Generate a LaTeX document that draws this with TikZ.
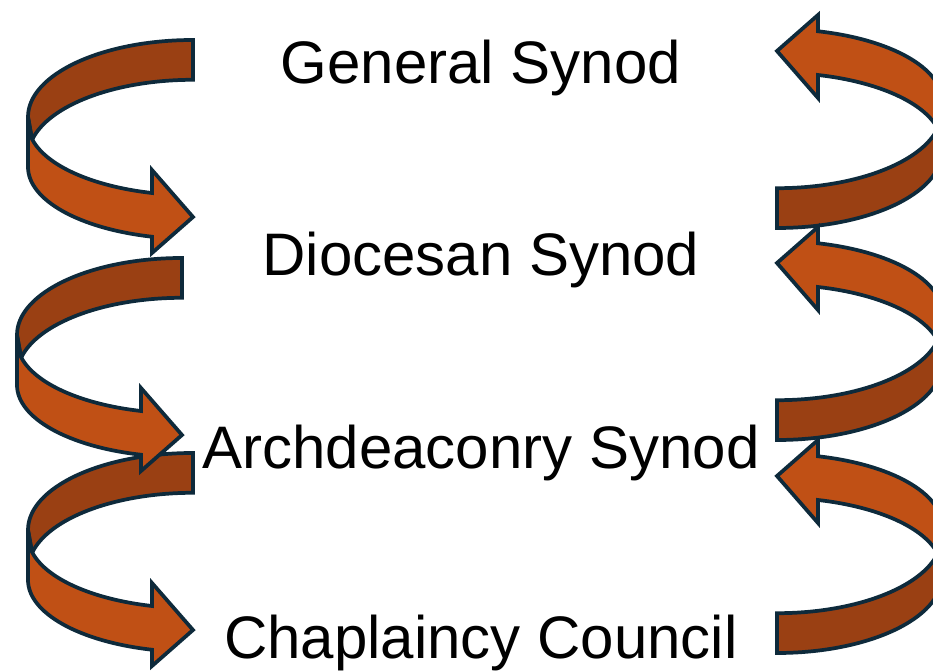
\documentclass[tikz,border=0pt]{standalone}
\usepackage{fontspec}
\setmainfont{Liberation Sans}
\definecolor{ribbonfront}{HTML}{C05015}
\definecolor{ribbonback}{HTML}{9A4013}
\definecolor{ribbonline}{HTML}{0E2A3B}

\begin{document}
\begin{tikzpicture}[x=0.75pt,y=0.75pt,
    back/.style={fill=ribbonback,draw=ribbonline,line width=2.8pt},
    front/.style={fill=ribbonfront,draw=ribbonline,line width=2.8pt},
    level/.style={anchor=base,font=\fontsize{45}{54}\selectfont}]
    \useasboundingbox (0,0) rectangle (933,672);
    \clip (0,0) rectangle (933,672);

    % ribbons: left ones run down, right ones (turned round) run up
    \foreach \tx/\ty/\rot in {193/219/0, 182/414/0, 193/632/0, 777/444/180, 777/232/180, 777/19/180}
    {
      \begin{scope}[shift={(\tx,\ty)},rotate=\rot]
        \filldraw[back] (0,0) arc[start angle=90,end angle=180,x radius=165,y radius=77]
          -- (-161,-100) arc[start angle=167.4,end angle=90,x radius=165,y radius=77] -- cycle;
        \filldraw[front] (-165,-77) -- (-165,-127)
          arc[start angle=180,end angle=255.6,x radius=165,y radius=72]
          -- (-41,-213) -- (0,-177) -- (-41,-130) -- (-41,-153)
          arc[start angle=255.6,end angle=192.6,x radius=165,y radius=72] -- cycle;
      \end{scope}
    }

    \node[level] (general) at (481,588) {General Synod};
    \node[level] (diocesan) at (481,396) {Diocesan Synod};
    \node[level] (archdeaconry) at (481,203) {Archdeaconry Synod};
    \node[level] (chaplaincy) at (481,13) {Chaplaincy Council};
\end{tikzpicture}
\end{document}
